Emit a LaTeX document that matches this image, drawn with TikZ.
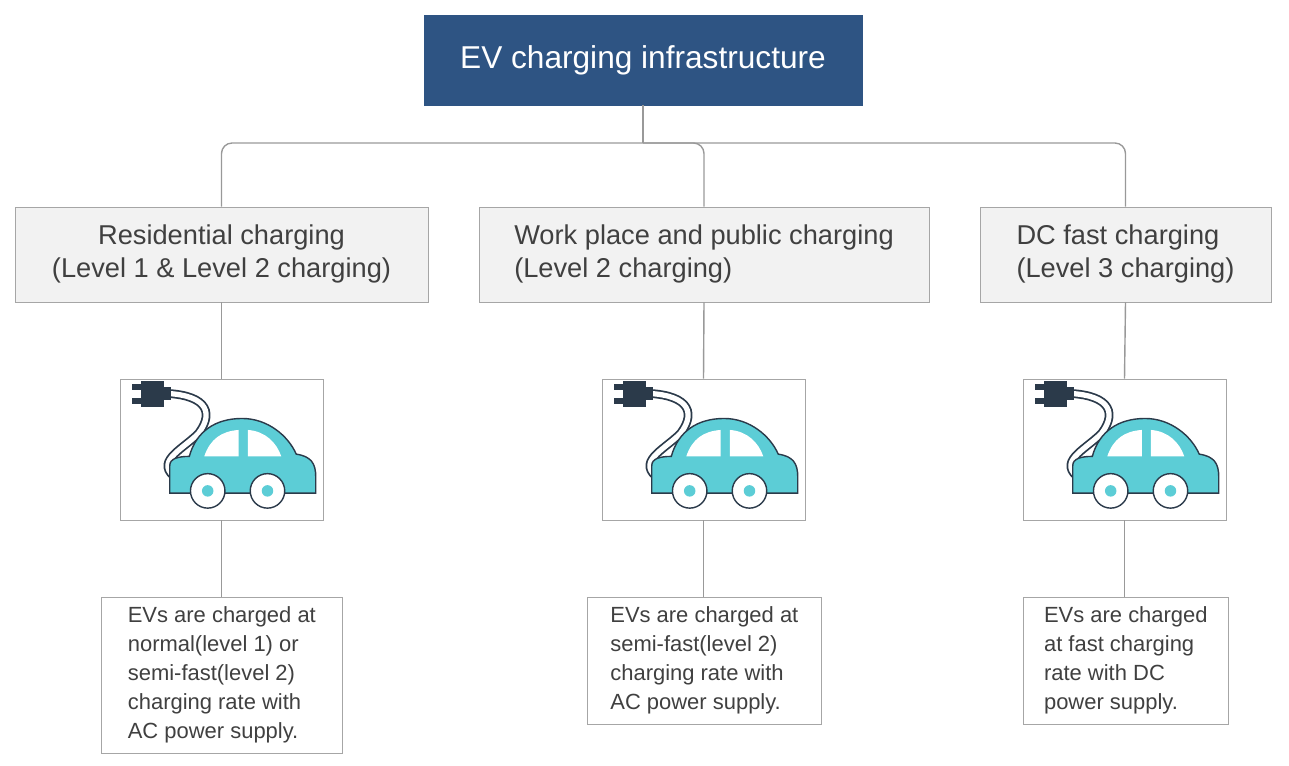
\documentclass[tikz,border=0pt]{standalone}
\usepackage{fontspec}
\setmainfont{Liberation Sans}
\begin{document}
\definecolor{titleblue}{HTML}{2E5483}
\definecolor{boxgray}{HTML}{F2F2F2}
\definecolor{edge}{HTML}{A6A6A6}
\definecolor{txt}{HTML}{404040}
\definecolor{carc}{HTML}{5CCDD6}
\definecolor{dark}{HTML}{2B3A4A}
\begin{tikzpicture}[x=0.02cm,y=-0.02cm,
  title/.style={draw=titleblue,fill=titleblue,text=white,font=\fontsize{18}{22}\selectfont,minimum width=438*0.02cm,minimum height=90*0.02cm,inner sep=0},
  cat/.style={draw=edge,fill=boxgray,text=txt,font=\fontsize{15.5}{19}\selectfont,minimum height=95*0.02cm,inner sep=0},
  img/.style={draw=edge,fill=white,minimum width=203*0.02cm,minimum height=141*0.02cm,inner sep=0},
  desc/.style={draw=edge,fill=white,text=txt,font=\fontsize{12.5}{16.5}\selectfont,anchor=north west,inner xsep=6pt,inner ysep=3pt,minimum width=#1*0.02cm},
  conn/.style={draw=gray!80,line width=0.8pt},
  car/.pic={
    \begin{scope}[x=0.023cm,y=-0.023cm,shift={(-100,-74)}]
    \draw[dark,line width=5pt,line cap=round] (45,25) .. controls (85,25) and (95,40) .. (80,60) .. controls (65,75) and (40,85) .. (62,100);
    \draw[white,line width=3pt,line cap=round] (45,25) .. controls (85,25) and (95,40) .. (80,60) .. controls (65,75) and (40,85) .. (62,100);
    \fill[dark] (30,14) rectangle (50,37);
    \fill[dark] (22,17) rectangle (30,22);
    \fill[dark] (22,29) rectangle (30,34);
    \fill[dark] (50,20) rectangle (56,31);
    \draw[dark,fill=carc,line width=0.8pt] (55,112) -- (55,88) .. controls (55,82) and (62,80) .. (72,80)
      .. controls (78,58) and (95,47) .. (118,47) .. controls (140,47) and (158,62) .. (165,78)
      .. controls (178,80) and (182,86) .. (182,98) -- (182,112) -- cycle;
    \fill[white] (85,80) .. controls (90,65) and (100,58) .. (115,57) -- (115,80) -- cycle;
    \fill[white] (123,57) .. controls (138,58) and (148,68) .. (152,80) -- (123,80) -- cycle;
    \foreach \cx in {88,140}{
      \draw[dark,fill=white,line width=0.8pt] (\cx,110) circle (15);
      \fill[carc] (\cx,110) circle (5);
    }
    \end{scope}}
]
\useasboundingbox (0,0) rectangle (1289,765);
\node[title] (t) at (643,60) {EV charging infrastructure};

\node[cat,minimum width=413*0.02cm] (c1) at (221.5,254.5) {\begin{tabular}{@{}c@{}}Residential charging\\(Level 1 \& Level 2 charging)\end{tabular}};
\node[cat,minimum width=450*0.02cm] (c2) at (704,254.5) {\begin{tabular}{@{}l@{}}Work place and public charging\\(Level 2 charging)\end{tabular}};
\node[cat,minimum width=291*0.02cm] (c3) at (1125.5,254.5) {\begin{tabular}{@{}l@{}}DC fast charging\\(Level 3 charging)\end{tabular}};

\node[img] (i1) at (221.5,449.5) {};
\node[img] (i2) at (703.5,449.5) {};
\node[img] (i3) at (1124.5,449.5) {};
\pic at (i1.center) {car};
\pic at (i2.center) {car};
\pic at (i3.center) {car};

\node[desc=241] (d1) at (101,597) {\begin{tabular}{@{}l@{}}EVs are charged at\\normal(level 1) or\\semi-fast(level 2)\\charging rate with\\AC power supply.\end{tabular}};
\node[desc=234] (d2) at (587,597) {\begin{tabular}{@{}l@{}}EVs are charged at\\semi-fast(level 2)\\charging rate with\\AC power supply.\end{tabular}};
\node[desc=205] (d3) at (1023,597) {\begin{tabular}{@{}l@{}}EVs are charged\\at fast charging\\rate with DC\\power supply.\end{tabular}};

\coordinate (j) at (643,143);
\draw[conn] (t.south) -- (j);
\draw[conn,rounded corners=6pt] (c1.north) |- (j) -| (c3.north);
\draw[conn,rounded corners=6pt] (j) -| (c2.north);
\draw[conn] (c1.south) -- (i1.north);
\draw[conn] (c2.south) -- (i2.north);
\draw[conn] (c3.south) -- (i3.north);
\draw[conn] (i1.south) -- (i1.south|-d1.north);
\draw[conn] (i2.south) -- (i2.south|-d2.north);
\draw[conn] (i3.south) -- (i3.south|-d3.north);
\end{tikzpicture}
\end{document}
